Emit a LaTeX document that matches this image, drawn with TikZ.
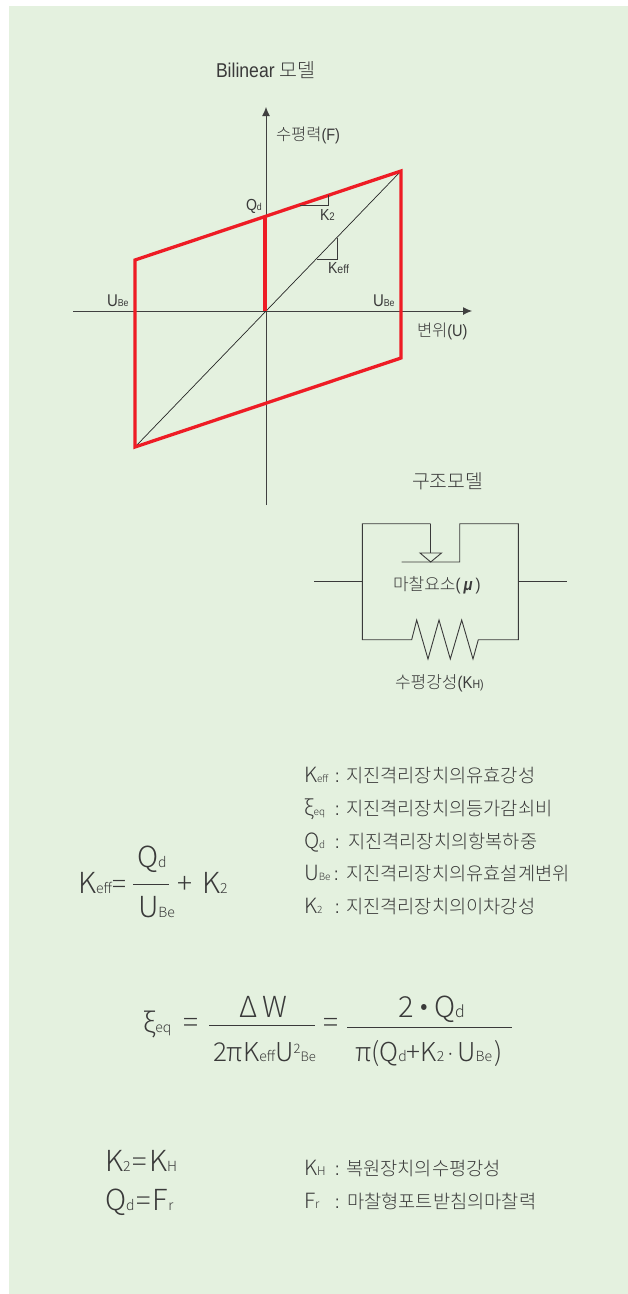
\documentclass[tikz,border=0pt]{standalone}
\usepackage{fontspec}
\setmainfont[FakeStretch=0.88]{Liberation Sans}
\newfontfamily\kof{Noto Sans CJK KR Light}
\newcommand\fsz[1]{\fontsize{#1}{#1}\selectfont}
\newcommand\ko[1]{{\kof #1}}
\definecolor{bgc}{HTML}{E4F1DF}
\definecolor{ink}{HTML}{3A3A3A}
\definecolor{redl}{HTML}{EE1C25}
\usetikzlibrary{arrows.meta}
\tikzset{
 txt/.style={anchor=base west,inner sep=0pt,outer sep=0pt,text=ink},
 eqt/.style={txt,font=\kof},
 ln/.style={draw=ink,line width=.9pt},
 axisl/.style={draw=black!75,line width=.9pt,-{Latex[length=9pt,width=8pt]}},
 thinl/.style={draw=black!85,line width=.7pt},
 redp/.style={draw=redl,line width=3.3pt,line join=miter},
 bar/.style={draw=ink,line width=.8pt}
}
\begin{document}
\begin{tikzpicture}[x=1pt,y=-1pt]
\useasboundingbox (0,0) rectangle (628,1294);
\fill[white] (0,0) rectangle (628,1294);
\fill[bgc] (9,6) rectangle (628,1294);
% axes
\coordinate (xa) at (73,311);\coordinate (xb) at (472,311);
\coordinate (ya) at (266,505);\coordinate (yb) at (266,107);
\draw[axisl] (ya)--(yb);
\draw[axisl] (xa)--(xb);
% hysteresis
\coordinate (A) at (135,260);\coordinate (B) at (401,171);
\coordinate (C) at (401,358);\coordinate (D) at (135,447);
\coordinate (Q) at (265,216);\coordinate (O) at (265,311);
\draw[thinl] (D)--(B);
\draw[redp] (A)--(B)--(C)--(D)--cycle;
\draw[redp] (Q)--(O);
% slope triangles
\coordinate (k1) at (300,205.5);\coordinate (k2) at (328,205.5);\coordinate (k3) at (328,195);
\draw[ln] (k1)--(k2)--(k3);
\coordinate (e1) at (317,259);\coordinate (e2) at (337,259);\coordinate (e3) at (337,238);
\draw[ln] (e1)--(e2)--(e3);
% labels
\node[txt] (t1) at (216,77) {\fsz{20}Bilinear \ko{\fsz{19.5}모델}};
\node[txt] (t2) at (276,140) {\fsz{16.5}\ko{수평력}(F)};
\node[txt] (t3) at (246,210) {\fsz{16}Q\fsz{10}d};
\node[txt] (t4) at (320,220) {\fsz{16}K\fsz{11}2};
\node[txt] (t5) at (328,273) {\fsz{16}K\fsz{12}eff};
\node[txt] (t6) at (107,306) {\fsz{17}U\fsz{10}Be};
\node[txt] (t7) at (373,306) {\fsz{17}U\fsz{10}Be};
\node[txt] (t8) at (417,336) {\fsz{16.5}\ko{변위}(U)};
% structural model
\node[txt] (t9) at (412,488) {\ko{\fsz{19.3}구조모델}};
\coordinate (a1) at (314,581.7);\coordinate (a2) at (362.3,581.7);
\coordinate (a3) at (518.3,581.7);\coordinate (a4) at (567,581.7);
\coordinate (tl) at (362.3,523.7);\coordinate (tr) at (518.3,523.7);
\coordinate (bl) at (362.3,639.7);\coordinate (br) at (518.3,639.7);
\coordinate (s1) at (430.7,523.7);\coordinate (s2) at (430.7,553);
\coordinate (p1) at (401.7,562);\coordinate (p2) at (459.7,562);\coordinate (p3) at (459.7,523.7);
\coordinate (w1) at (420,553);\coordinate (w2) at (441.5,553);\coordinate (w3) at (430.7,562);
\draw[ln] (a1)--(a2);\draw[ln] (a3)--(a4);
\draw[ln] (s1)--(tl)--(bl)--(411.7,639.7)--(416.7,620)--(428,659)--(439,620)--(450.3,659)--(461.7,620)--(473,659)--(478.3,639.7)--(br)--(tr)--(p3)--(p2)--(p1);
\draw[ln] (s1)--(s2);
\draw[ln] (w1)--(w2)--(w3)--cycle;
\node[txt] (t10) at (393,590) {\fsz{17}\ko{마찰요소}(\hspace{3pt}\textbf{\textit{μ}}\hspace{3pt})};
\node[txt] (t11) at (395,688) {\fsz{17}\ko{수평강성}(K\fsz{12}H)};
% definitions
\node[eqt] at (304,782) {\fsz{21}K\fsz{10}eff};
\node[txt] at (335,782) {\fsz{18}:};
\node[txt] at (346,782) {\fsz{18.7}\ko{지진격리장치의유효강성}};
\node[eqt] at (304,815) {\fsz{21}ξ\fsz{10}eq};
\node[txt] at (335,815) {\fsz{18}:};
\node[txt] at (346,815) {\fsz{18.7}\ko{지진격리장치의등가감쇠비}};
\node[eqt] at (304,848) {\fsz{21}Q\fsz{10}d};
\node[txt] at (335,848) {\fsz{18}:};
\node[txt] at (348,848) {\fsz{18.7}\ko{지진격리장치의항복하중}};
\node[eqt] at (304,880) {\fsz{21}U\fsz{10}Be};
\node[txt] at (334,880) {\fsz{18}:};
\node[txt] at (346,880) {\fsz{18.7}\ko{지진격리장치의유효설계변위}};
\node[eqt] at (304,913) {\fsz{21}K\fsz{10}2};
\node[txt] at (335,913) {\fsz{18}:};
\node[txt] at (346,913) {\fsz{18.7}\ko{지진격리장치의이차강성}};
% Keff equation
\node[eqt] at (78,893) {\fsz{29}K\fsz{14}eff};
\node[eqt] at (112,893) {\fsz{26}=};
\node[eqt] at (137,867) {\fsz{29}Q\fsz{14}d};
\coordinate (f1a) at (133,884);\coordinate (f1b) at (169,884);
\draw[bar] (f1a)--(f1b);
\node[eqt] at (138,917) {\fsz{29}U\fsz{14}Be};
\node[eqt] at (177,893) {\fsz{28}+};
\node[eqt] at (202,893) {\fsz{29}K\fsz{14}2};
% damping equation
\node[eqt] at (143,1032) {\fsz{27}ξ\fsz{14}eq};
\node[eqt] at (183,1032) {\fsz{28}=};
\coordinate (f2a) at (209,1025);\coordinate (f2b) at (315,1025);
\draw[bar] (f2a)--(f2b);
\node[eqt] at (239,1017) {\fsz{29}Δ\hspace{5pt}W};
\node[eqt] at (213,1061) {\fsz{26}2πK\fsz{14}eff\fsz{26}U\raisebox{8pt}{\fsz{13}2}\fsz{13}Be};
\node[eqt] at (323,1032) {\fsz{28}=};
\coordinate (f3a) at (347,1027);\coordinate (f3b) at (512,1027);
\draw[bar] (f3a)--(f3b);
\node[eqt] at (398,1017) {\fsz{29}2\hspace{7pt}\raisebox{3pt}{\fsz{24}•}\hspace{6pt}Q\fsz{16}d};
\node[eqt] at (355,1061) {\fsz{26}π(Q\fsz{14}d\fsz{26}+K\fsz{14}2\hspace{1pt}\fsz{20}·\hspace{1pt}\fsz{26}U\fsz{14}Be\hspace{2pt}\fsz{26})};
% bottom equations
\node[eqt] at (105,1171) {\fsz{29}K\fsz{14}2\fsz{27}\hspace{2pt}=\hspace{2pt}\fsz{29}K\fsz{14}H};
\node[eqt] at (105,1210) {\fsz{29}Q\fsz{14}d\fsz{27}\hspace{2pt}=\hspace{2pt}\fsz{29}F\fsz{14}r};
\node[eqt] at (304,1175) {\fsz{21}K\fsz{12}H};
\node[txt] at (335,1175) {\fsz{18}:};
\node[txt] at (346,1175) {\fsz{18.7}\ko{복원장치의수평강성}};
\node[eqt] at (304,1208) {\fsz{21}F\fsz{12}r};
\node[txt] at (335,1208) {\fsz{18}:};
\node[txt] at (347,1208) {\fsz{18.7}\ko{마찰형포트받침의마찰력}};
\end{tikzpicture}
\end{document}
